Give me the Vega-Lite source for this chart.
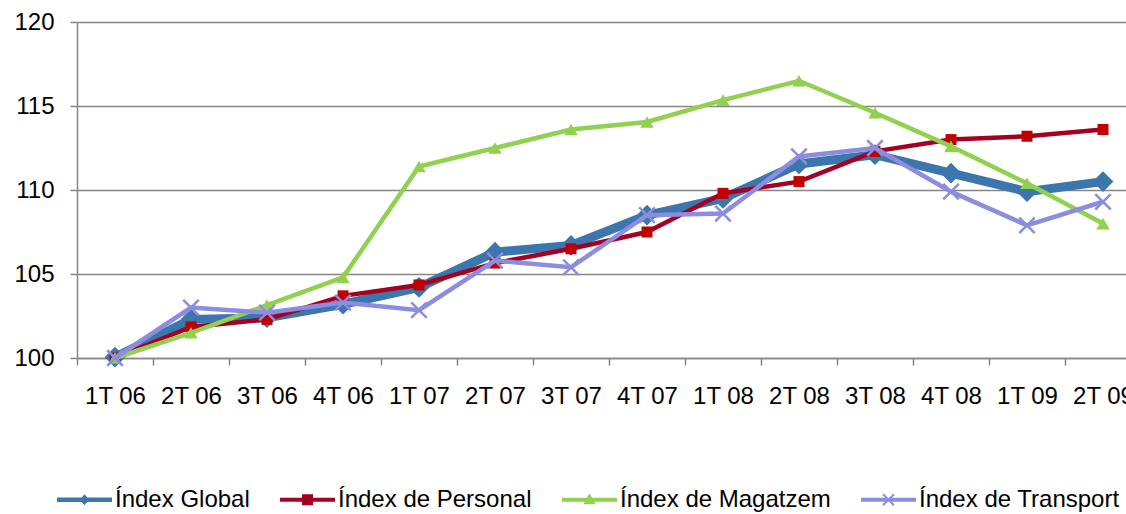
{
  "$schema": "https://vega.github.io/schema/vega-lite/v6.json",
  "width": 1049,
  "height": 336,
  "autosize": {"type": "none"},
  "padding": {"left": 77, "top": 22, "right": 0, "bottom": 156},
  "background": "white",
  "config": {
    "view": {"stroke": null},
    "font": "Liberation Sans",
    "axis": {"labelFont": "Liberation Sans", "labelFontSize": 24, "labelColor": "#000000", "domainColor": "#868686", "domainWidth": 1.5, "tickColor": "#868686", "tickWidth": 1.5, "tickSize": 7, "gridColor": "#868686", "gridWidth": 1.5, "title": null}
  },
  "data": {"values": [
    {"q": "1T 06", "s": "Índex Global", "v": 100.05},
    {"q": "2T 06", "s": "Índex Global", "v": 102.3},
    {"q": "3T 06", "s": "Índex Global", "v": 102.4},
    {"q": "4T 06", "s": "Índex Global", "v": 103.2},
    {"q": "1T 07", "s": "Índex Global", "v": 104.2},
    {"q": "2T 07", "s": "Índex Global", "v": 106.3},
    {"q": "3T 07", "s": "Índex Global", "v": 106.7},
    {"q": "4T 07", "s": "Índex Global", "v": 108.5},
    {"q": "1T 08", "s": "Índex Global", "v": 109.5},
    {"q": "2T 08", "s": "Índex Global", "v": 111.55},
    {"q": "3T 08", "s": "Índex Global", "v": 112.1},
    {"q": "4T 08", "s": "Índex Global", "v": 111.0},
    {"q": "1T 09", "s": "Índex Global", "v": 109.9},
    {"q": "2T 09", "s": "Índex Global", "v": 110.5},
    {"q": "1T 06", "s": "Índex de Personal", "v": 100.0},
    {"q": "2T 06", "s": "Índex de Personal", "v": 101.85},
    {"q": "3T 06", "s": "Índex de Personal", "v": 102.3},
    {"q": "4T 06", "s": "Índex de Personal", "v": 103.7},
    {"q": "1T 07", "s": "Índex de Personal", "v": 104.35},
    {"q": "2T 07", "s": "Índex de Personal", "v": 105.65},
    {"q": "3T 07", "s": "Índex de Personal", "v": 106.5},
    {"q": "4T 07", "s": "Índex de Personal", "v": 107.5},
    {"q": "1T 08", "s": "Índex de Personal", "v": 109.8},
    {"q": "2T 08", "s": "Índex de Personal", "v": 110.5},
    {"q": "3T 08", "s": "Índex de Personal", "v": 112.3},
    {"q": "4T 08", "s": "Índex de Personal", "v": 113.0},
    {"q": "1T 09", "s": "Índex de Personal", "v": 113.2},
    {"q": "2T 09", "s": "Índex de Personal", "v": 113.6},
    {"q": "1T 06", "s": "Índex de Magatzem", "v": 100.0},
    {"q": "2T 06", "s": "Índex de Magatzem", "v": 101.5},
    {"q": "3T 06", "s": "Índex de Magatzem", "v": 103.15},
    {"q": "4T 06", "s": "Índex de Magatzem", "v": 104.8},
    {"q": "1T 07", "s": "Índex de Magatzem", "v": 111.4},
    {"q": "2T 07", "s": "Índex de Magatzem", "v": 112.5},
    {"q": "3T 07", "s": "Índex de Magatzem", "v": 113.6},
    {"q": "4T 07", "s": "Índex de Magatzem", "v": 114.05},
    {"q": "1T 08", "s": "Índex de Magatzem", "v": 115.35},
    {"q": "2T 08", "s": "Índex de Magatzem", "v": 116.5},
    {"q": "3T 08", "s": "Índex de Magatzem", "v": 114.6},
    {"q": "4T 08", "s": "Índex de Magatzem", "v": 112.6},
    {"q": "1T 09", "s": "Índex de Magatzem", "v": 110.4},
    {"q": "2T 09", "s": "Índex de Magatzem", "v": 108.0},
    {"q": "1T 06", "s": "Índex de Transport", "v": 100.0},
    {"q": "2T 06", "s": "Índex de Transport", "v": 103.0},
    {"q": "3T 06", "s": "Índex de Transport", "v": 102.7},
    {"q": "4T 06", "s": "Índex de Transport", "v": 103.3},
    {"q": "1T 07", "s": "Índex de Transport", "v": 102.85},
    {"q": "2T 07", "s": "Índex de Transport", "v": 105.8},
    {"q": "3T 07", "s": "Índex de Transport", "v": 105.4},
    {"q": "4T 07", "s": "Índex de Transport", "v": 108.5},
    {"q": "1T 08", "s": "Índex de Transport", "v": 108.6},
    {"q": "2T 08", "s": "Índex de Transport", "v": 112.0},
    {"q": "3T 08", "s": "Índex de Transport", "v": 112.5},
    {"q": "4T 08", "s": "Índex de Transport", "v": 109.9},
    {"q": "1T 09", "s": "Índex de Transport", "v": 107.9},
    {"q": "2T 09", "s": "Índex de Transport", "v": 109.3}
  ]},
  "encoding": {
    "x": {"field": "q", "type": "ordinal", "sort": null,
      "scale": {"type": "band", "range": [0, 1064], "paddingInner": 0, "paddingOuter": 0},
      "axis": {"labelAngle": 0, "tickBand": "extent", "labelPadding": 19, "grid": false}},
    "y": {"field": "v", "type": "quantitative",
      "scale": {"domain": [100, 120], "nice": false, "zero": false},
      "axis": {"values": [100, 105, 110, 115, 120], "labelPadding": 16, "grid": true}},
    "color": {"field": "s", "type": "nominal",
      "scale": {"domain": ["Índex Global", "Índex de Personal", "Índex de Magatzem", "Índex de Transport"],
                "range": ["#3B76AD", "#A50021", "#92D050", "#8C8CE0"]},
      "legend": {"orient": "none", "legendX": -20, "legendY": 450, "direction": "horizontal", "title": null,
        "symbolSize": 3025, "labelFont": "Liberation Sans", "labelFontSize": 24, "labelColor": "#000000",
        "labelOffset": 3, "columnPadding": 30, "labelLimit": 0, "symbolStrokeWidth": 0,
        "encode": {"symbols": {"update": {
          "shape": {"signal": "datum.value === 'Índex Global' ? 'M-1,-0.08H1V0.08H-1Z M0,-0.2L0.17,0L0,0.2L-0.17,0Z' : datum.value === 'Índex de Personal' ? 'M-1,-0.07H1V0.07H-1Z M-0.2,-0.2H0.2V0.2H-0.2Z' : datum.value === 'Índex de Magatzem' ? 'M-1,-0.07H1V0.07H-1Z M0,-0.24L0.22,0.16H-0.22Z' : 'M-1,-0.07H1V0.07H-1Z M-0.175,-0.225L0.225,0.175L0.175,0.225L-0.225,-0.175Z M-0.225,0.175L0.175,-0.225L0.225,-0.175L-0.175,0.225Z'"},
          "fill": {"scale": "color", "field": "value"},
          "fillOpacity": {"value": 1},
          "strokeWidth": {"value": 0},
          "opacity": {"value": 1}
        }}}}
    }
  },
  "layer": [
    {"transform": [{"filter": "datum.s === 'Índex Global'"}], "mark": {"type": "line", "strokeWidth": 9}},
    {"transform": [{"filter": "datum.s === 'Índex Global'"}], "mark": {"type": "point", "shape": "diamond", "size": 430, "filled": true, "opacity": 1}},
    {"transform": [{"filter": "datum.s === 'Índex de Personal'"}], "mark": {"type": "line", "strokeWidth": 4.5}},
    {"transform": [{"filter": "datum.s === 'Índex de Personal'"}], "mark": {"type": "point", "shape": "square", "size": 121, "filled": true, "opacity": 1}, "encoding": {"color": {"value": "#C00000"}}},
    {"transform": [{"filter": "datum.s === 'Índex de Magatzem'"}], "mark": {"type": "line", "strokeWidth": 4.5}},
    {"transform": [{"filter": "datum.s === 'Índex de Magatzem'"}], "mark": {"type": "point", "shape": "triangle-up", "size": 180, "filled": true, "opacity": 1}},
    {"transform": [{"filter": "datum.s === 'Índex de Transport'"}], "mark": {"type": "line", "strokeWidth": 4.5}},
    {"transform": [{"filter": "datum.s === 'Índex de Transport'"}], "mark": {"type": "point", "shape": "M-1,-1L1,1M-1,1L1,-1", "size": 240, "filled": false, "strokeWidth": 2.5, "opacity": 1}}
  ]
}
